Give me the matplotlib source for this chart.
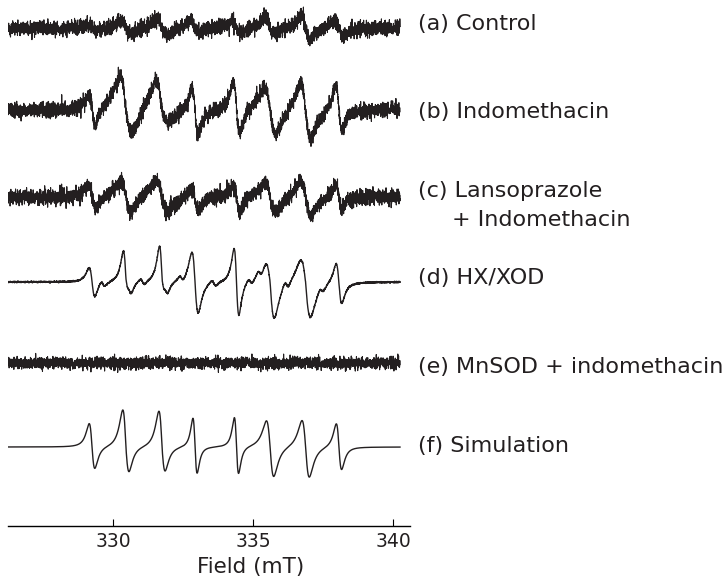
import numpy as np
import matplotlib.pyplot as plt

# line centres (mT), shared by all traces
line_pos = [329.25, 330.46, 331.75, 332.93, 334.41, 335.61, 336.88, 338.07]

labels = ['(a) Control', '(b) Indomethacin', '(c) Lansoprazole', '(d) HX/XOD',
          '(e) MnSOD + indomethacin', '(f) Simulation']
label_y = [24, 112, 191, 278, 367, 446]

# baselines in pixels from the top of the figure
baselines = [28, 110, 197, 282, 363, 447]

# height of the upper lobe / depth of the lower lobe of each line (px)
pos_a = [3, 8, 9, 7, 6, 10, 12, 8]
neg_a = [3, 7, 7, 4, 5, 6, 13, 7]
pos_b = [14, 32, 32, 22, 27, 22, 29, 27]
neg_b = [18, 25, 12, 24, 24, 26, 26, 18]
pos_c = [12, 15, 17, 10, 10, 14, 16, 14]
neg_c = [12, 16, 14, 13, 16, 16, 18, 9]
pos_d = [14, 29, 34, 30, 33, 19, 23, 20]
neg_d = [15, 12, 13, 31, 34, 37, 35, 20]
pos_e = [0, 0, 0, 0, 0, 0, 0, 0]
neg_e = [0, 0, 0, 0, 0, 0, 0, 0]
pos_f = [23, 37, 36, 29, 29, 26, 27, 24]
neg_f = [22, 25, 24, 26, 27, 30, 30, 22]

# peak-to-peak widths (mT)
width_a = [0.3] * 8
width_b = [0.22, 0.42, 0.42, 0.22, 0.22, 0.4, 0.36, 0.22]
width_c = [0.25, 0.36, 0.4, 0.22, 0.22, 0.36, 0.36, 0.22]
width_d = [0.2, 0.18, 0.18, 0.22, 0.17, 0.3, 0.34, 0.2]
width_e = [0.3] * 8
width_f = [0.2, 0.22, 0.22, 0.15, 0.15, 0.26, 0.26, 0.19]

# small second-species lines in (d): centre (mT), amplitude (px)
sat_pos_d = [329.64, 330.6, 331.05, 331.9, 332.45, 333.6, 334.9, 335.25, 336.2, 337.45]
sat_amp_d = [3, 5, 3, 5, 3, 3, 3, 4, 4, 3]

# noise level of each trace (px)
noise = [3.6, 3.6, 3.6, 0.35, 2.9, 0.0]

pos_all = [pos_a, pos_b, pos_c, pos_d, pos_e, pos_f]
neg_all = [neg_a, neg_b, neg_c, neg_d, neg_e, neg_f]
width_all = [width_a, width_b, width_c, width_d, width_e, width_f]

field = np.linspace(326.25, 340.25, 4096)


def deriv_line(x, x0, pp, up, down):
    w = pp * np.sqrt(3) / 2
    u = (x - x0) / w
    shape = -u / (1 + u ** 2) ** 2 / 0.3248
    return np.where(u < 0, shape * up, shape * down)


fig = plt.figure(figsize=(7.23, 5.77), dpi=100)
ax = fig.add_axes([8 / 723, 51 / 577, 402 / 723, 526 / 577])
rng = np.random.default_rng(7)

for i in range(6):
    sig = np.zeros_like(field)
    for x0, pp, up, dn in zip(line_pos, width_all[i], pos_all[i], neg_all[i]):
        sig += deriv_line(field, x0, pp, up, dn)
    if i == 3:
        for x0, a in zip(sat_pos_d, sat_amp_d):
            sig += deriv_line(field, x0, 0.15, a, a)
    if noise[i] > 0:
        sig += rng.normal(0, noise[i], field.size)
    lw = 0.8 if noise[i] > 1 else 1.0
    ax.plot(field, baselines[i] - sig, color='#231f20', lw=lw)

ax.set_xlim(326.25, 340.607)
ax.set_ylim(526, 0)
for s in ['top', 'left', 'right']:
    ax.spines[s].set_visible(False)
ax.spines['bottom'].set_linewidth(1.0)
ax.set_yticks([])
ax.set_xticks([330, 335, 340])
ax.tick_params(axis='x', direction='in', length=5, width=0.8, pad=4,
               labelsize=13.5, labelcolor='#231f20')
ax.set_xlabel('Field (mT)', fontsize=15.5, color='#231f20')
ax.xaxis.set_label_coords((251 - 8) / 402, -0.058)

for lab, y in zip(labels, label_y):
    fig.text(418 / 723, 1 - y / 577, lab, fontsize=16,
             va='center', ha='left', color='#231f20')
fig.text(452 / 723, 1 - 220 / 577, '+ Indomethacin', fontsize=16,
         va='center', ha='left', color='#231f20')

fig.savefig('out.png', dpi=100)
